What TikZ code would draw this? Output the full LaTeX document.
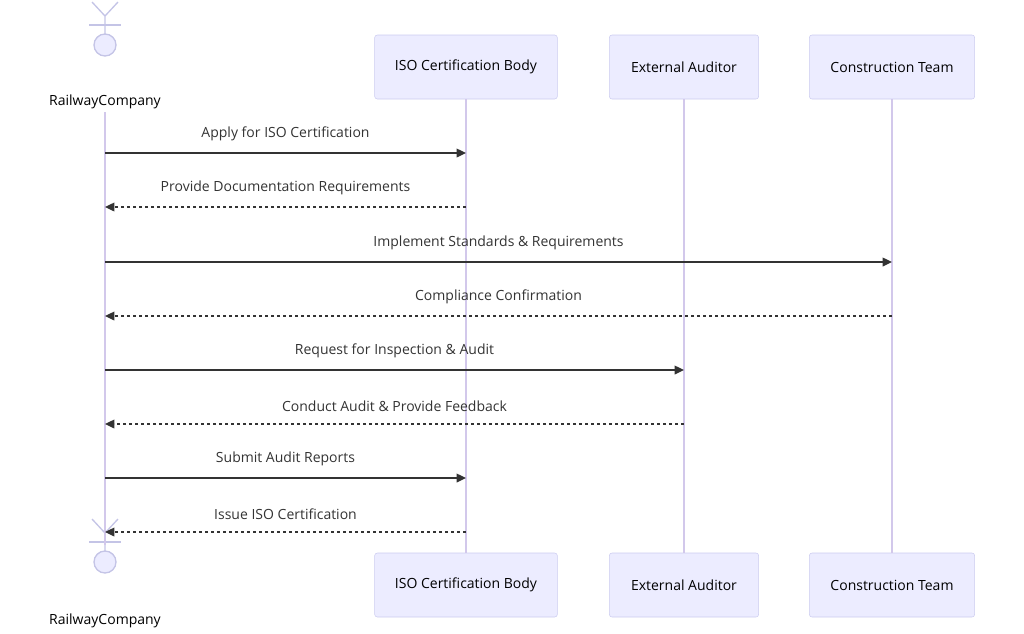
\documentclass[tikz,border=0pt]{standalone}
\usepackage{fontspec}
\setmainfont{Open Sans}
\usetikzlibrary{arrows.meta}
\definecolor{boxfill}{RGB}{236,236,255}
\definecolor{boxline}{RGB}{204,204,240}
\definecolor{lifeline}{RGB}{210,200,235}
\definecolor{msgline}{RGB}{51,51,51}
\tikzset{
  part/.style={draw=boxline, fill=boxfill, rounded corners=2pt, minimum height=48pt, inner sep=0pt, font=\fontsize{10.5}{12}\selectfont},
  actorlabel/.style={inner sep=0.75pt, font=\fontsize{10.5}{12}\selectfont},
  msgtext/.style={inner sep=0.75pt, font=\fontsize{10.5}{12}\selectfont, text=msgline},
  life/.style={draw=lifeline, line width=1.2pt},
  stick/.style={draw=boxline!80!black!20!boxline, line width=1pt},
  call/.style={draw=msgline, line width=1pt, -{Triangle[length=7pt,width=6.5pt]}},
  reply/.style={call, dash pattern=on 2.5pt off 2pt}
}
\newcommand{\stickman}[2]{% name, head centre
  \draw [stick, fill=boxfill] (#2) circle (11);
  \draw [stick] (#2) ++(0,-11) -- ++(0,-18) -- ++(-13,-14) ++(13,14) -- ++(13,-14);
  \draw [stick] (#2) ++(-16,-20) -- ++(32,0);
}
\begin{document}
\begin{tikzpicture}[x=0.75pt,y=-0.75pt]
\useasboundingbox (0,0) rectangle (1024,633);

% participants, top
\node [part, minimum width=137pt] (isoT) at (466,67) {ISO Certification Body};
\node [part, minimum width=112pt] (extT) at (684,67) {External Auditor};
\node [part, minimum width=124pt] (conT) at (892,67) {Construction Team};
\node [part, minimum width=137pt] (isoB) at (466,585) {ISO Certification Body};
\node [part, minimum width=112pt] (extB) at (684,585) {External Auditor};
\node [part, minimum width=124pt] (conB) at (892,585) {Construction Team};

% actor
\coordinate (railT) at (105,112);
\coordinate (railB) at (105,545);
\stickman{railTop}{105,45}
\stickman{railBot}{105,562}
\node [actorlabel] (railLabT) at (105,102) {RailwayCompany};
\node [actorlabel] (railLabB) at (105,621) {RailwayCompany};

% lifelines
\draw [life] (railT) -- (railB);
\draw [life] (isoT) -- (isoB);
\draw [life] (extT) -- (extB);
\draw [life] (conT) -- (conB);

% messages
\foreach \y/\name in {153/m1,207/m2,262/m3,316/m4,370/m5,424/m6,478/m7,532/m8}
  \coordinate (\name) at (0,\y);

\draw [call]  (railT|-m1) -- node [msgtext, above=8pt] {Apply for ISO Certification} (isoT|-m1);
\draw [reply] (isoT|-m2) -- node [msgtext, above=8pt] {Provide Documentation Requirements} (railT|-m2);
\draw [call]  (railT|-m3) -- node [msgtext, above=8pt] {Implement Standards \& Requirements} (conT|-m3);
\draw [reply] (conT|-m4) -- node [msgtext, above=8pt] {Compliance Confirmation} (railT|-m4);
\draw [call]  (railT|-m5) -- node [msgtext, above=8pt] {Request for Inspection \& Audit} (extT|-m5);
\draw [reply] (extT|-m6) -- node [msgtext, above=8pt] {Conduct Audit \& Provide Feedback} (railT|-m6);
\draw [call]  (railT|-m7) -- node [msgtext, above=8pt] {Submit Audit Reports} (isoT|-m7);
\draw [reply] (isoT|-m8) -- node [msgtext, above=8pt] {Issue ISO Certification} (railT|-m8);

\end{tikzpicture}
\end{document}
